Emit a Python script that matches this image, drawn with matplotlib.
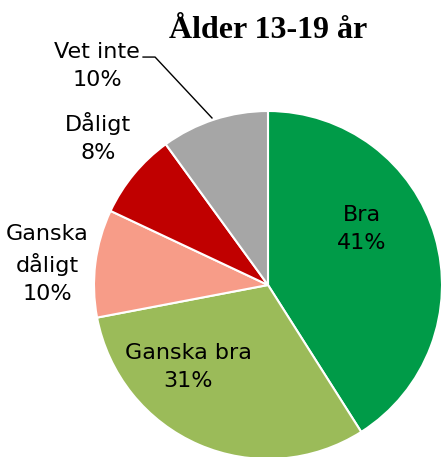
import matplotlib.pyplot as plt

# data
categories = ['Bra', 'Ganska bra', 'Ganska\ndåligt', 'Dåligt', 'Vet inte']
values = [41, 31, 10, 8, 10]
colors = ['#009B48', '#9BBB59', '#F79C88', '#C00000', '#A6A6A6']
title = 'Ålder 13-19 år'

W, H = 441, 457
fig = plt.figure(figsize=(W / 100, H / 100), dpi=100)

# pie centre (268, 285) px from top-left, radius 174 px
cx, cy, r = 268, H - 285, 174
ax = fig.add_axes([(cx - r) / W, (cy - r) / H, 2 * r / W, 2 * r / H])
ax.pie(values, colors=colors, startangle=90, counterclock=False,
       wedgeprops=dict(edgecolor='white', linewidth=1.5))
ax.set_xlim(-1, 1)
ax.set_ylim(-1, 1)
ax.set_aspect('auto')
ax.axis('off')

# label positions (data units, radius = 1)
label_pos = [(0.54, 0.32), (-0.46, -0.47), (-1.27, 0.12), (-0.977, 0.85), (-0.983, 1.26)]
for cat, val, (x, y) in zip(categories, values, label_pos):
    ax.text(x, y, f'{cat}\n{val}%', ha='center', va='center', fontsize=16,
            family='DejaVu Sans', linespacing=1.5, clip_on=False)

# leader line for "Vet inte"
ax.plot([-0.718, -0.649, -0.322], [1.31, 1.31, 0.96], color='black',
        linewidth=1, clip_on=False)

fig.text(cx / W, 1 - 30 / H, title, ha='center', va='center', fontsize=23,
         fontweight='bold', family='Liberation Serif')

fig.savefig('out.png', dpi=100)
